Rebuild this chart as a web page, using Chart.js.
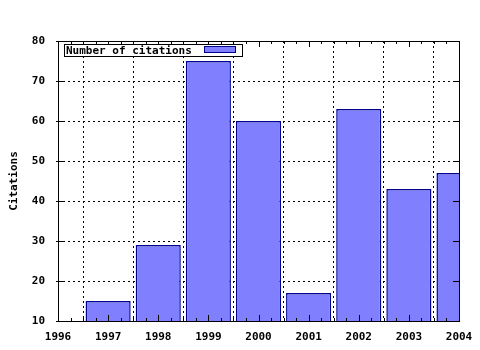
<!DOCTYPE html>
<html>
<head>
<meta charset="utf-8">
<script src="https://cdn.jsdelivr.net/npm/chart.js@4"></script>
<style>
html, body { margin: 0; padding: 0; background: #fff; }
#wrap { width: 480px; height: 350px; }
</style>
</head>
<body>
<div id="wrap"><canvas id="myChart" width="480" height="350"></canvas></div>
<script>
var years = [1997, 1998, 1999, 2000, 2001, 2002, 2003, 2004];
var citations = [15, 29, 75, 60, 17, 63, 43, 47];
var seriesLabel = 'Number of citations';
var yTitle = 'Citations';

var monoFont = { family: "'DejaVu Sans Mono', 'Liberation Mono', monospace", size: 11, weight: 'bold' };

// frame, inward ticks and the legend box, gnuplot style
var framePlugin = {
    id: 'frame',
    afterDatasetsDraw: function(chart) {
        var c = chart.ctx, a = chart.chartArea;
        var xs = chart.scales.x, ys = chart.scales.y;
        c.save();
        c.strokeStyle = '#000';
        c.lineWidth = 1;
        c.setLineDash([]);
        c.beginPath();
        // minor ticks on x every quarter year
        for (var v = xs.min; v <= xs.max + 0.001; v += 0.25) {
            var px = Math.round(xs.getPixelForValue(v)) + 0.5;
            var len = Math.abs(v - Math.round(v)) < 0.001 ? 6 : 3;
            c.moveTo(px, a.bottom); c.lineTo(px, a.bottom - len);
            c.moveTo(px, a.top); c.lineTo(px, a.top + len);
        }
        for (var t = ys.min; t <= ys.max + 0.001; t += 10) {
            var py = Math.round(ys.getPixelForValue(t)) + 0.5;
            c.moveTo(a.left - 2, py); c.lineTo(a.left + 6, py);
            c.moveTo(a.right, py); c.lineTo(a.right - 6, py);
        }
        c.stroke();
        c.strokeRect(Math.round(a.left) + 0.5, Math.round(a.top) + 0.5,
            Math.round(a.right - a.left), Math.round(a.bottom - a.top));

        // legend
        var ds = chart.data.datasets[0];
        c.fillStyle = '#fff';
        c.fillRect(64, 44, 179, 13);
        c.strokeRect(64.5, 44.5, 178, 12);
        c.font = 'bold 11px ' + monoFont.family;
        c.fillStyle = '#000';
        c.textBaseline = 'middle';
        c.textAlign = 'left';
        c.fillText(ds.label, 66, 51);
        c.fillStyle = ds.backgroundColor;
        c.fillRect(204, 46, 32, 7);
        c.strokeStyle = ds.borderColor;
        c.strokeRect(204.5, 46.5, 31, 6);
        c.restore();
    }
};

var ctx = document.getElementById('myChart').getContext('2d');
var points = [];
for (var i = 0; i < years.length; i++) {
    points.push({ x: years[i], y: citations[i] });
}

var myChart = new Chart(ctx, {
    type: 'bar',
    data: {
        datasets: [{
            label: seriesLabel,
            data: points,
            backgroundColor: '#8080ff',
            borderColor: '#000090',
            borderWidth: 1.5,
            barPercentage: 0.9,
            categoryPercentage: 1.0
        }]
    },
    options: {
        responsive: false,
        animation: false,
        layout: { padding: { left: 0, right: 21, top: 41, bottom: 0 } },
        plugins: {
            legend: { display: false },
            tooltip: { enabled: false }
        },
        scales: {
            x: {
                type: 'linear',
                min: 1996,
                max: 2004,
                offset: false,
                border: { display: false, dash: [2, 3] },
                grid: { color: '#000', lineWidth: 1, drawTicks: false },
                ticks: {
                    stepSize: 1,
                    padding: 10,
                    color: '#000',
                    font: monoFont,
                    callback: function(v) { return String(v); }
                },
                afterFit: function(s) { s.height = 29; s.paddingLeft = 0; s.paddingRight = 0; }
            },
            y: {
                min: 10,
                max: 80,
                border: { display: false, dash: [2, 3] },
                grid: { color: '#000', lineWidth: 1, drawTicks: false },
                ticks: { stepSize: 10, padding: 13, color: '#000', font: monoFont },
                title: { display: true, text: yTitle, color: '#000', font: monoFont, padding: { top: 8, bottom: 0 } },
                afterFit: function(s) { s.width = 58; }
            }
        }
    },
    plugins: [framePlugin]
});
</script>
</body>
</html>
